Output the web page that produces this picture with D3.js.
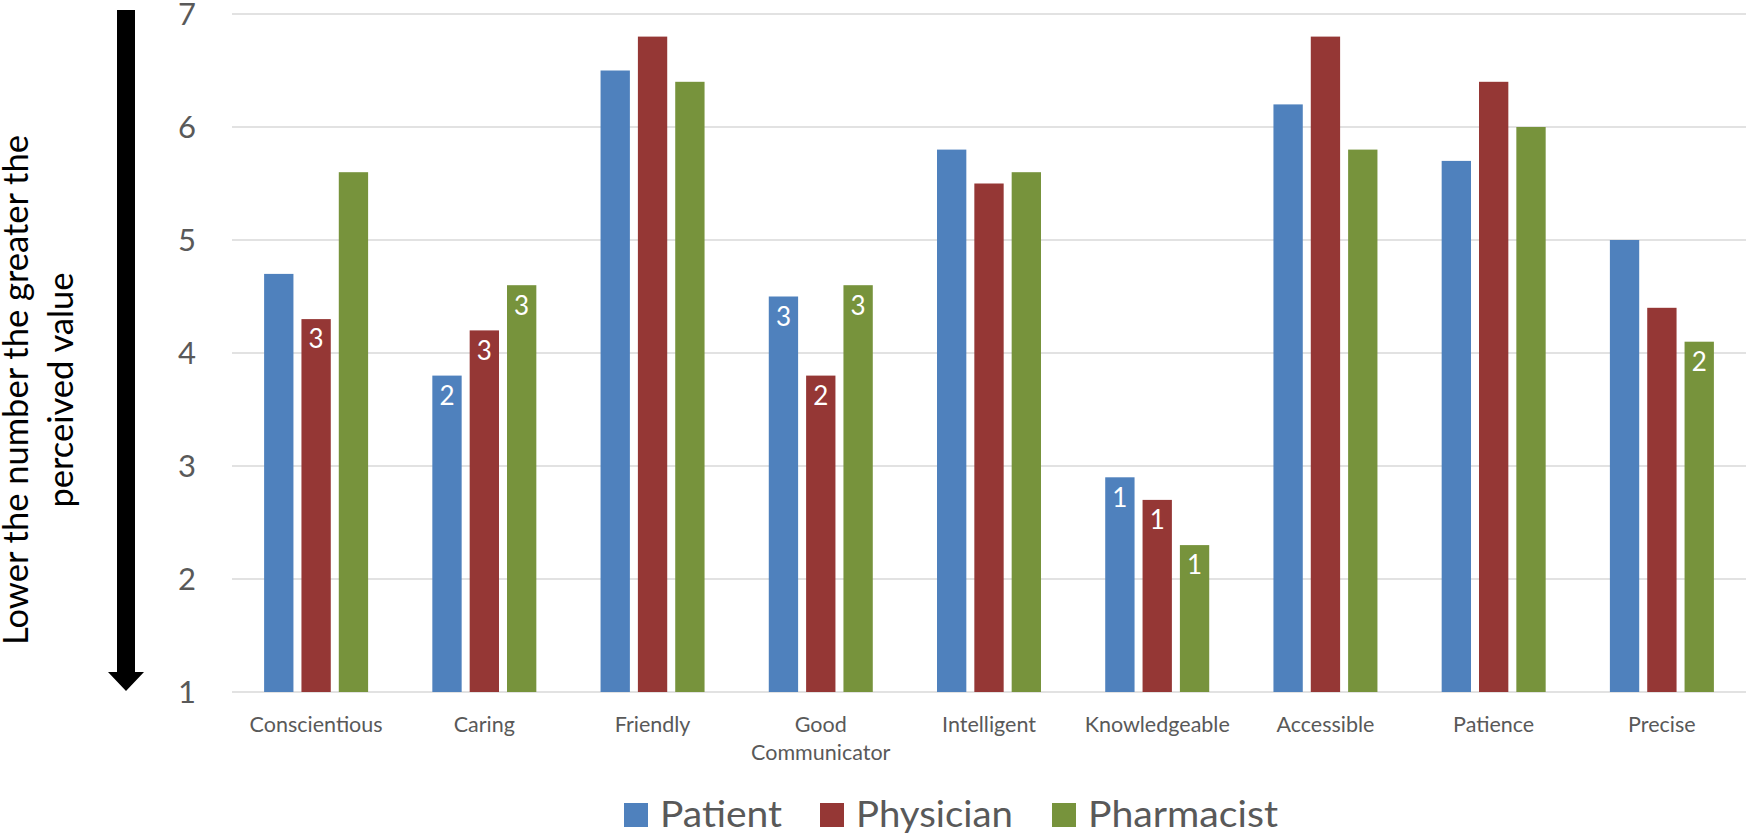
<!DOCTYPE html>
<html>
<head>
<meta charset="utf-8">
<script src="https://cdn.jsdelivr.net/npm/d3@7"></script>
<style>
  html, body { margin: 0; padding: 0; background: #fff; }
  svg { display: block; font-family: Lato, "Open Sans", sans-serif; }
</style>
</head>
<body>
<svg id="chart" width="1748" height="836"></svg>
<script>
// Attribute ratings by respondent group (lower number = greater perceived value)
const categories = ["Conscientious", "Caring", "Friendly", "Good Communicator", "Intelligent",
                    "Knowledgeable", "Accessible", "Patience", "Precise"];
const series = ["Patient", "Physician", "Pharmacist"];
const patientValues    = [4.7, 3.8, 6.5, 4.5, 5.8, 2.9, 6.2, 5.7, 5.0];
const physicianValues  = [4.3, 4.2, 6.8, 3.8, 5.5, 2.7, 6.8, 6.4, 4.4];
const pharmacistValues = [5.6, 4.6, 6.4, 4.6, 5.6, 2.3, 5.8, 6.0, 4.1];
// Rank labels shown inside some bars
const patientRanks    = [null, "2", null, "3", null, "1", null, null, null];
const physicianRanks  = ["3", "3", null, "2", null, "1", null, null, null];
const pharmacistRanks = [null, "3", null, "3", null, "1", null, null, "2"];
const yTicks = [1, 2, 3, 4, 5, 6, 7];
const colors = ["#4f81bd", "#953735", "#77933c"];

const valuesBySeries = [patientValues, physicianValues, pharmacistValues];
const ranksBySeries = [patientRanks, physicianRanks, pharmacistRanks];

const svg = d3.select("#chart");

const plot = { left: 232, right: 1746, top: 14, bottom: 692 };

const y = d3.scaleLinear().domain([1, 7]).range([plot.bottom, plot.top]);
const x0 = d3.scaleBand().domain(categories).range([plot.left, plot.right]);
const groupW = 104;
const x1 = d3.scaleBand().domain(series)
  .range([(x0.bandwidth() - groupW) / 2, (x0.bandwidth() + groupW) / 2])
  .paddingInner(0.2145);

// Gridlines
svg.append("g").selectAll("line").data(yTicks).join("line")
  .attr("x1", plot.left).attr("x2", plot.right)
  .attr("y1", d => y(d)).attr("y2", d => y(d))
  .attr("stroke", "#d9d9d9").attr("stroke-width", 1.5);

// Y tick labels
svg.append("g").selectAll("text").data(yTicks).join("text")
  .attr("x", 196).attr("y", d => y(d))
  .attr("text-anchor", "end").attr("dy", "0.36em")
  .attr("font-size", 31).attr("fill", "#595959")
  .text(d => d);

// Bars
const rows = [];
categories.forEach((c, i) => {
  series.forEach((s, j) => {
    rows.push({ cat: c, ser: s, j, value: valuesBySeries[j][i], rank: ranksBySeries[j][i] });
  });
});

const bars = svg.append("g");
bars.selectAll("rect").data(rows).join("rect")
  .attr("x", d => x0(d.cat) + x1(d.ser))
  .attr("y", d => y(d.value))
  .attr("width", x1.bandwidth())
  .attr("height", d => y(1) - y(d.value))
  .attr("fill", d => colors[d.j]);

// Rank labels inside bars
bars.selectAll("text").data(rows.filter(d => d.rank)).join("text")
  .attr("x", d => x0(d.cat) + x1(d.ser) + x1.bandwidth() / 2)
  .attr("y", d => y(d.value) + 20)
  .attr("text-anchor", "middle").attr("dy", "0.36em")
  .attr("font-size", 26).attr("fill", "#ffffff")
  .text(d => d.rank);

// Category labels
const catLabels = svg.append("g").selectAll("text").data(categories).join("text")
  .attr("x", d => x0(d) + x0.bandwidth() / 2)
  .attr("y", 732)
  .attr("text-anchor", "middle")
  .attr("font-size", 21.5).attr("fill", "#595959");
catLabels.each(function (d) {
  const t = d3.select(this);
  const parts = d === "Good Communicator" ? ["Good", "Communicator"] : [d];
  parts.forEach((p, k) => {
    t.append("tspan").attr("x", x0(d) + x0.bandwidth() / 2)
      .attr("dy", k === 0 ? 0 : 28).text(p);
  });
});

// Direction arrow beside the axis
svg.append("path")
  .attr("d", "M117,10 L135,10 L135,672 L144,672 L126,691 L108,672 L117,672 Z")
  .attr("fill", "#000");

// Rotated axis title
const title = svg.append("text")
  .attr("transform", "translate(0,390) rotate(-90)")
  .attr("text-anchor", "middle")
  .attr("font-size", 34.5).attr("fill", "#000");
title.append("tspan").attr("x", 0).attr("y", 28).text("Lower the number the greater the");
title.append("tspan").attr("x", 0).attr("y", 73).text("perceived value");

// Legend
const legendX = [624, 820, 1052];
const legendW = [122, 157, 190];
const legend = svg.append("g").selectAll("g").data(series).join("g");
legend.append("rect")
  .attr("x", (d, i) => legendX[i]).attr("y", 803)
  .attr("width", 24).attr("height", 24)
  .attr("fill", (d, i) => colors[i]);
legend.append("text")
  .attr("x", (d, i) => legendX[i] + 36).attr("y", 827)
  .attr("font-size", 37.5).attr("fill", "#595959")
  .attr("textLength", (d, i) => legendW[i])
  .attr("lengthAdjust", "spacingAndGlyphs")
  .text(d => d);
</script>
</body>
</html>
